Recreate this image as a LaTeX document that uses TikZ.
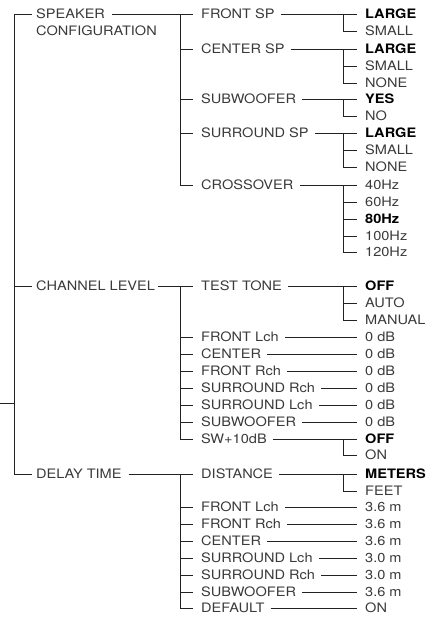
\documentclass[tikz,border=0pt]{standalone}
\usepackage{fontspec}
\setmainfont{TeX Gyre Heros}[FakeStretch=1.12]
\definecolor{txt}{HTML}{3A3A3A}
\definecolor{lnc}{HTML}{222222}
\tikzset{
  lbl/.style={anchor=west, inner sep=0pt, text height=9.3pt, text depth=0pt, text=txt, font=\fontsize{13}{15}\selectfont},
  bl/.style={lbl, text=black, font=\fontsize{13}{15}\selectfont\bfseries},
  ln/.style={draw=lnc, line width=0.8pt}
}
\begin{document}
\begin{tikzpicture}[x=1pt,y=-1pt]
\useasboundingbox (0,0) rectangle (429,617);
% level 1
\node[lbl] (spk) at (36,14) {SPEAKER};
\node[lbl] (spkb) at (36,31) {CONFIGURATION};
\node[lbl] (chl) at (36,286) {CHANNEL LEVEL};
\node[lbl] (dly) at (36,474) {DELAY TIME};
% level 2 group 1
\node[lbl] (fsp) at (201,14) {FRONT SP};
\node[lbl] (csp) at (201,49) {CENTER SP};
\node[lbl] (sub) at (201,99) {SUBWOOFER};
\node[lbl] (ssp) at (201,133) {SURROUND SP};
\node[lbl] (cro) at (201,185) {CROSSOVER};
% level 2 group 2
\node[lbl] (tt) at (201,286) {TEST TONE};
\node[lbl] (c1) at (201,337) {FRONT Lch};
\node[lbl] (c2) at (201,354) {CENTER};
\node[lbl] (c3) at (201,371) {FRONT Rch};
\node[lbl] (c4) at (201,388) {SURROUND Rch};
\node[lbl] (c5) at (201,405) {SURROUND Lch};
\node[lbl] (c6) at (201,422) {SUBWOOFER};
\node[lbl] (sw) at (201,439) {SW+10dB};
% level 2 group 3
\node[lbl] (dis) at (201,474) {DISTANCE};
\node[lbl] (d1) at (201,507) {FRONT Lch};
\node[lbl] (d2) at (201,524) {FRONT Rch};
\node[lbl] (d3) at (201,541) {CENTER};
\node[lbl] (d4) at (201,558) {SURROUND Lch};
\node[lbl] (d5) at (201,575) {SURROUND Rch};
\node[lbl] (d6) at (201,592) {SUBWOOFER};
\node[lbl] (d7) at (201,608) {DEFAULT};
% level 3 options
\node[bl]  (fa) at (365,14) {LARGE};
\node[lbl] (fb) at (365,31) {SMALL};
\node[bl]  (ca) at (365,49) {LARGE};
\node[lbl] (cb) at (365,66) {SMALL};
\node[lbl] (cc) at (365,83) {NONE};
\node[bl]  (wa) at (365,99) {YES};
\node[lbl] (wb) at (365,116) {NO};
\node[bl]  (sa) at (365,133) {LARGE};
\node[lbl] (sb) at (365,150) {SMALL};
\node[lbl] (sc) at (365,167) {NONE};
\node[lbl] (xa) at (365,185) {40Hz};
\node[lbl] (xb) at (365,202) {60Hz};
\node[bl]  (xc) at (365,219) {80Hz};
\node[lbl] (xd) at (365,236) {100Hz};
\node[lbl] (xe) at (365,252) {120Hz};
\node[bl]  (ta) at (365,286) {OFF};
\node[lbl] (tb) at (365,303) {AUTO};
\node[lbl] (tc) at (365,320) {MANUAL};
\node[lbl] (v1) at (365,337) {0 dB};
\node[lbl] (v2) at (365,354) {0 dB};
\node[lbl] (v3) at (365,371) {0 dB};
\node[lbl] (v4) at (365,388) {0 dB};
\node[lbl] (v5) at (365,405) {0 dB};
\node[lbl] (v6) at (365,422) {0 dB};
\node[bl]  (oa) at (365,439) {OFF};
\node[lbl] (ob) at (365,455) {ON};
\node[bl]  (ma) at (365,474) {METERS};
\node[lbl] (mb) at (365,491) {FEET};
\node[lbl] (e1) at (365,507) {3.6 m};
\node[lbl] (e2) at (365,524) {3.6 m};
\node[lbl] (e3) at (365,541) {3.6 m};
\node[lbl] (e4) at (365,558) {3.0 m};
\node[lbl] (e5) at (365,575) {3.0 m};
\node[lbl] (e6) at (365,592) {3.6 m};
\node[lbl] (e7) at (365,608) {ON};
% root
\coordinate (in) at (0,403);
\coordinate (rj) at (14,403);
\draw[ln] (in) -- (rj);
\draw[ln] ([xshift=-4pt]spk.west) -- ([xshift=-22pt]spk.west) |- ([xshift=-4pt]dly.west);
\draw[ln] ([xshift=-22pt]chl.west) -- ([xshift=-4pt]chl.west);
% level1 -> level2
\draw[ln] ([xshift=7pt]spk.east) -- ([xshift=-8pt]fsp.west);
\draw[ln] ([xshift=-21pt]fsp.west) |- ([xshift=-8pt]cro.west);
\foreach \n in {csp,sub,ssp}{\draw[ln] ([xshift=-21pt]\n.west) -- ([xshift=-8pt]\n.west);}
\draw[ln] ([xshift=3pt]chl.east) -- ([xshift=-8pt]tt.west);
\draw[ln] ([xshift=-21pt]tt.west) |- ([xshift=-8pt]sw.west);
\foreach \n in {c1,c2,c3,c4,c5,c6}{\draw[ln] ([xshift=-21pt]\n.west) -- ([xshift=-8pt]\n.west);}
\draw[ln] ([xshift=7pt]dly.east) -- ([xshift=-8pt]dis.west);
\draw[ln] ([xshift=-21pt]dis.west) |- ([xshift=-8pt]d7.west);
\foreach \n in {d1,d2,d3,d4,d5,d6}{\draw[ln] ([xshift=-21pt]\n.west) -- ([xshift=-8pt]\n.west);}
% level2 -> level3
\foreach \p/\f/\l in {fsp/fa/fb,csp/ca/cc,sub/wa/wb,ssp/sa/sc,cro/xa/xe,tt/ta/tc,sw/oa/ob,dis/ma/mb}{
  \draw[ln] ([xshift=6pt]\p.east) -- ([xshift=-8pt]\f.west);
  \draw[ln] ([xshift=-22pt]\f.west) |- ([xshift=-8pt]\l.west);
}
\foreach \n in {cb,sb,xb,xc,xd,tb}{\draw[ln] ([xshift=-22pt]\n.west) -- ([xshift=-8pt]\n.west);}
\foreach \a/\b in {c1/v1,c2/v2,c3/v3,c4/v4,c5/v5,c6/v6,d1/e1,d2/e2,d3/e3,d4/e4,d5/e5,d6/e6,d7/e7}{
  \draw[ln] ([xshift=6pt]\a.east) -- ([xshift=-8pt]\b.west);
}
\end{tikzpicture}
\end{document}
